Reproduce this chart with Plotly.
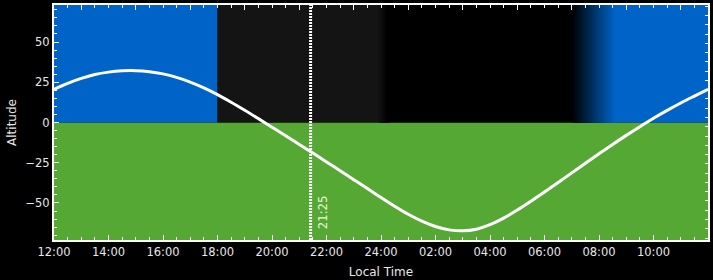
import plotly.graph_objects as go

# ---------------- data ----------------
# time samples (hours since midnight of first day; 24+ = next day)
HOURS = [12.0 + 0.5 * i for i in range(49)]
ALTITUDE = [
    20.6, 24.3, 27.4, 29.8, 31.3, 32.1, 32.2, 31.6, 30.2, 28.0,
    25.1, 21.5, 17.3, 12.6, 7.6, 2.4, -2.9, -8.2, -13.6, -19.0,
    -24.5, -30.0, -35.5, -41.0, -46.6, -52.0, -57.0, -61.3, -64.6, -66.7,
    -67.3, -66.3, -63.5, -59.4, -54.4, -48.9, -43.2, -37.3, -31.3, -25.3,
    -19.4, -13.6, -8.0, -2.6, 2.6, 7.5, 12.1, 16.4, 20.6,
]

TICK_HOURS = [12, 14, 16, 18, 20, 22, 24, 26, 28, 30, 32, 34]
TICK_LABELS = ["12:00", "14:00", "16:00", "18:00", "20:00", "22:00",
               "24:00", "02:00", "04:00", "06:00", "08:00", "10:00"]

X_RANGE = [12, 36]
Y_RANGE = [-73, 73]

CURRENT_TIME = 21 + 25 / 60
CURRENT_LABEL = "21:25"

# sky colour profile (piecewise linear between knots)
SKY_KNOT_HOURS = [12, 18, 18, 23.92, 24.28, 30.99, 32.58, 36]
SKY_KNOT_COLORS = ["#0063c8", "#0063c8", "#141414", "#141414",
                   "#000000", "#000000", "#0063c8", "#0063c8"]
GROUND_COLOR = "#55a834"

# ---------------- helpers ----------------
def hex2rgb(h):
    h = h.lstrip("#")
    return tuple(int(h[i:i + 2], 16) for i in (0, 2, 4))


def mix(c0, c1, t):
    a, b = hex2rgb(c0), hex2rgb(c1)
    return "rgb(%d,%d,%d)" % tuple(round(a[i] + (b[i] - a[i]) * t) for i in range(3))


shapes = []
# ground
shapes.append(dict(type="rect", xref="x", yref="y", x0=X_RANGE[0], x1=X_RANGE[1],
                   y0=Y_RANGE[0], y1=0, fillcolor=GROUND_COLOR, line_width=0,
                   layer="below"))
# sky: each strip extends to the end of its segment so later strips overlap (no seams)
for i in range(len(SKY_KNOT_HOURS) - 1):
    h0, h1 = SKY_KNOT_HOURS[i], SKY_KNOT_HOURS[i + 1]
    c0, c1 = SKY_KNOT_COLORS[i], SKY_KNOT_COLORS[i + 1]
    if h1 <= h0:
        continue
    n = 1 if c0 == c1 else 40
    for k in range(n):
        xa = h0 + (h1 - h0) * k / n
        col = mix(c0, c1, (k + 0.5) / n) if n > 1 else c0
        shapes.append(dict(type="rect", xref="x", yref="y", x0=xa, x1=h1,
                           y0=0, y1=Y_RANGE[1], fillcolor=col, line_width=0,
                           layer="below"))
# current time marker
shapes.append(dict(type="line", xref="x", yref="paper", x0=CURRENT_TIME, x1=CURRENT_TIME,
                   y0=0, y1=1, line=dict(color="white", width=3, dash="2px,1px")))

fig = go.Figure()
fig.add_trace(go.Scatter(x=HOURS, y=ALTITUDE, mode="lines",
                         line=dict(color="white", width=3, shape="spline", smoothing=1.0),
                         hoverinfo="skip", showlegend=False))
# invisible trace to activate secondary axes (top/right ticks)
fig.add_trace(go.Scatter(x=X_RANGE, y=Y_RANGE, xaxis="x2", yaxis="y2", mode="lines",
                         line=dict(width=0), opacity=0, hoverinfo="skip", showlegend=False))

FONT = dict(family="DejaVu Sans", size=11.5, color="#e8e8e8")

fig.update_layout(
    width=713, height=280,
    margin=dict(l=54, r=3, t=5, b=39),
    paper_bgcolor="black", plot_bgcolor="black",
    font=FONT,
    shapes=shapes,
    xaxis=dict(range=X_RANGE, tickmode="array", tickvals=TICK_HOURS, ticktext=TICK_LABELS,
               ticks="inside", ticklen=5, tickwidth=1, tickcolor="white",
               minor=dict(dtick=0.5, tick0=12, ticks="inside", ticklen=3, tickcolor="white"),
               showgrid=False, zeroline=False, showline=True, linecolor="white", linewidth=2,
               mirror=True, title=dict(text="Local Time", font=dict(size=12), standoff=10),
               tickfont=FONT),
    yaxis=dict(range=Y_RANGE, tickmode="array", tickvals=[-50, -25, 0, 25, 50],
               ticks="inside", ticklen=5, tickwidth=1, tickcolor="white",
               minor=dict(dtick=5, tick0=0, ticks="inside", ticklen=3, tickcolor="white"),
               showgrid=False, zeroline=False, showline=True, linecolor="white", linewidth=2,
               mirror=True, title=dict(text="Altitude", font=dict(size=12), standoff=6),
               tickfont=FONT),
    xaxis2=dict(range=X_RANGE, overlaying="x", side="top", anchor="y",
                tickmode="linear", tick0=13, dtick=2, ticks="inside", ticklen=5,
                tickcolor="white", showticklabels=False, showgrid=False, zeroline=False,
                showline=False,
                minor=dict(dtick=0.5, tick0=12, ticks="inside", ticklen=3, tickcolor="white")),
    yaxis2=dict(range=Y_RANGE, overlaying="y", side="right", anchor="x",
                tickmode="linear", tick0=3.09, dtick=5.76, ticks="inside", ticklen=3,
                tickcolor="white", showticklabels=False, showgrid=False, zeroline=False,
                showline=False),
    annotations=[dict(x=CURRENT_TIME, y=-56, xref="x", yref="y", text=CURRENT_LABEL,
                      textangle=-90, showarrow=False, xanchor="center", yanchor="middle",
                      xshift=12, font=dict(family="DejaVu Sans Condensed", size=13,
                                           color="#eef2d8"))],
)

fig.write_html("out.html")
